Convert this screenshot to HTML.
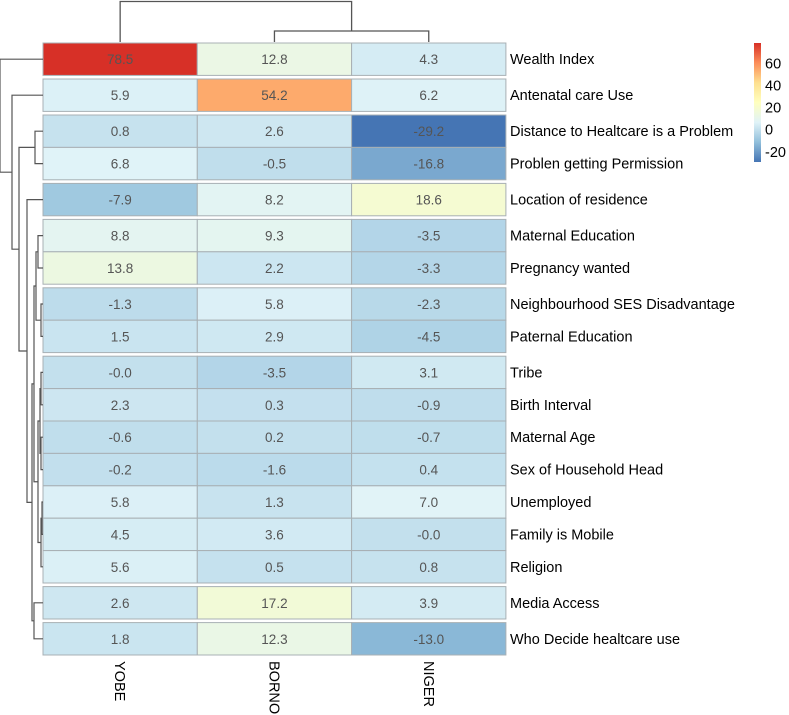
<!DOCTYPE html>
<html><head><meta charset="utf-8">
<style>
body{margin:0;background:#fff;}
svg{display:block;font-family:"Liberation Sans",Arial,sans-serif;}
</style></head>
<body>
<svg id="chart" width="789" height="715" viewBox="0 0 789 715"></svg>
<script>
const rowLabels=["Wealth Index","Antenatal care Use","Distance to Healtcare is a Problem","Problen getting Permission","Location of residence","Maternal Education","Pregnancy wanted","Neighbourhood SES Disadvantage","Paternal Education","Tribe","Birth Interval","Maternal Age","Sex of Household Head","Unemployed","Family is Mobile","Religion","Media Access","Who Decide healtcare use"];
const colLabels=["YOBE","BORNO","NIGER"];
const yobe=[78.5,5.9,0.8,6.8,-7.9,8.8,13.8,-1.3,1.5,-0.0,2.3,-0.6,-0.2,5.8,4.5,5.6,2.6,1.8];
const borno=[12.8,54.2,2.6,-0.5,8.2,9.3,2.2,5.8,2.9,-3.5,0.3,0.2,-1.6,1.3,3.6,0.5,17.2,12.3];
const niger=[4.3,6.2,-29.2,-16.8,18.6,-3.5,-3.3,-2.3,-4.5,3.1,-0.9,-0.7,0.4,7.0,-0.0,0.8,3.9,-13.0];
const legendTicks=[60,40,20,0,-20];
const rowGroups=[0,1,2,2,3,4,4,5,5,6,6,6,6,6,6,6,7,8];
const NS="http://www.w3.org/2000/svg";
const svg=document.getElementById('chart');
function el(t,a,p){const e=document.createElementNS(NS,t);for(const k in a)e.setAttribute(k,a[k]);(p||svg).appendChild(e);return e;}
const series=[yobe,borno,niger];
const all=[].concat(yobe,borno,niger);
const vmin=Math.min(...all),vmax=Math.max(...all);
const pal=["#4575B4","#91BFDB","#E0F3F8","#FFFFBF","#FEE090","#FC8D59","#D73027"];
function hex(c){return [1,3,5].map(i=>parseInt(c.substr(i,2),16));}
function color(v){let f=(v-vmin)/(vmax-vmin)*(pal.length-1);let i=Math.min(Math.floor(f),pal.length-2);let t=f-i;const a=hex(pal[i]),b=hex(pal[i+1]);return "rgb("+a.map((x,k)=>Math.round(x+(b[k]-x)*t)).join(",")+")";}
function fmt(v){const s=v.toFixed(1);return (Object.is(v,-0)||(v<0&&s.charAt(0)!=='-'))?'-'+s:s;}
const X0=43,CW=154.3,RH=32.4,GAP=3.6,Y0=43;
function rowY(i){return Y0+i*RH+rowGroups[i]*GAP;}
function colX(j){return X0+j*CW;}
const cells=el('g',{});


series.forEach((s,j)=>{s.forEach((v,i)=>{
  const r=el('rect',{x:colX(j),y:rowY(i),width:CW,height:RH,fill:color(v),stroke:"#a8b0b4","stroke-width":1},cells);
  
  
  const t=el('text',{x:colX(j)+CW/2,y:rowY(i)+RH/2+5,"text-anchor":"middle","font-size":13.5,fill:"#555"},cells);
  t.textContent=fmt(v);
  
  
});});
rowLabels.forEach((l,i)=>{
  const t=el('text',{x:510,y:rowY(i)+RH/2+5,"font-size":14.5,fill:"#000"});
  t.textContent=l;
  
  
});
colLabels.forEach((l,j)=>{
  const cx=colX(j)+CW/2;
  const t=el('text',{x:0,y:0,"font-size":14.5,fill:"#000",transform:"translate("+(cx-5)+",661) rotate(90)"});
  t.textContent=l;
  
  
});
const dg=el('g',{fill:"none",stroke:"#555","stroke-width":1.3});


const c=j=>colX(j)+CW/2;
el('path',{d:`M${c(1)},42V31H${c(2)}V42 M${c(1)+(c(2)-c(1))/2},31V1.5H${c(0)}V42`},dg);
const merges=[[2,3,8],[5,6,5],[7,8,2],[9,10,2],[11,12,2],[18+3,18+4,3],[13,14,1],[18+6,15,2],[18+5,18+7,5],[16,17,9],[18+1,18+2,7],[18+10,18+8,9],[18+11,18+9,11],[4,18+12,16],[18+0,18+13,24],[1,18+14,31],[0,18+15,43]];
const rg=el('g',{fill:"none",stroke:"#555","stroke-width":1.2});


const pos={};
for(let i=0;i<18;i++)pos[i]={y:rowY(i)+RH/2,x:X0};
merges.forEach((m,k)=>{
  const a=pos[m[0]],b=pos[m[1]],x=X0-m[2];
  el('path',{d:`M${a.x},${a.y}H${x}V${b.y}H${b.x}`},rg);
  pos[18+k]={x:x,y:(a.y+b.y)/2};
});
const defs=el('defs',{});
const lg=el('linearGradient',{id:"lg",x1:0,y1:1,x2:0,y2:0},defs);
pal.forEach((p,i)=>el('stop',{offset:i/(pal.length-1),"stop-color":p},lg));
const LT=43,LB=162;
const ly=v=>LB-(v-vmin)/(vmax-vmin)*(LB-LT);
const leg=el('rect',{x:754,y:LT,width:7,height:LB-LT,fill:"url(#lg)"});


legendTicks.forEach(v=>{
  const t=el('text',{x:765,y:ly(v)+5,"font-size":14.5,fill:"#000"});
  t.textContent=v;
  
  
});
</script>
</body></html>
